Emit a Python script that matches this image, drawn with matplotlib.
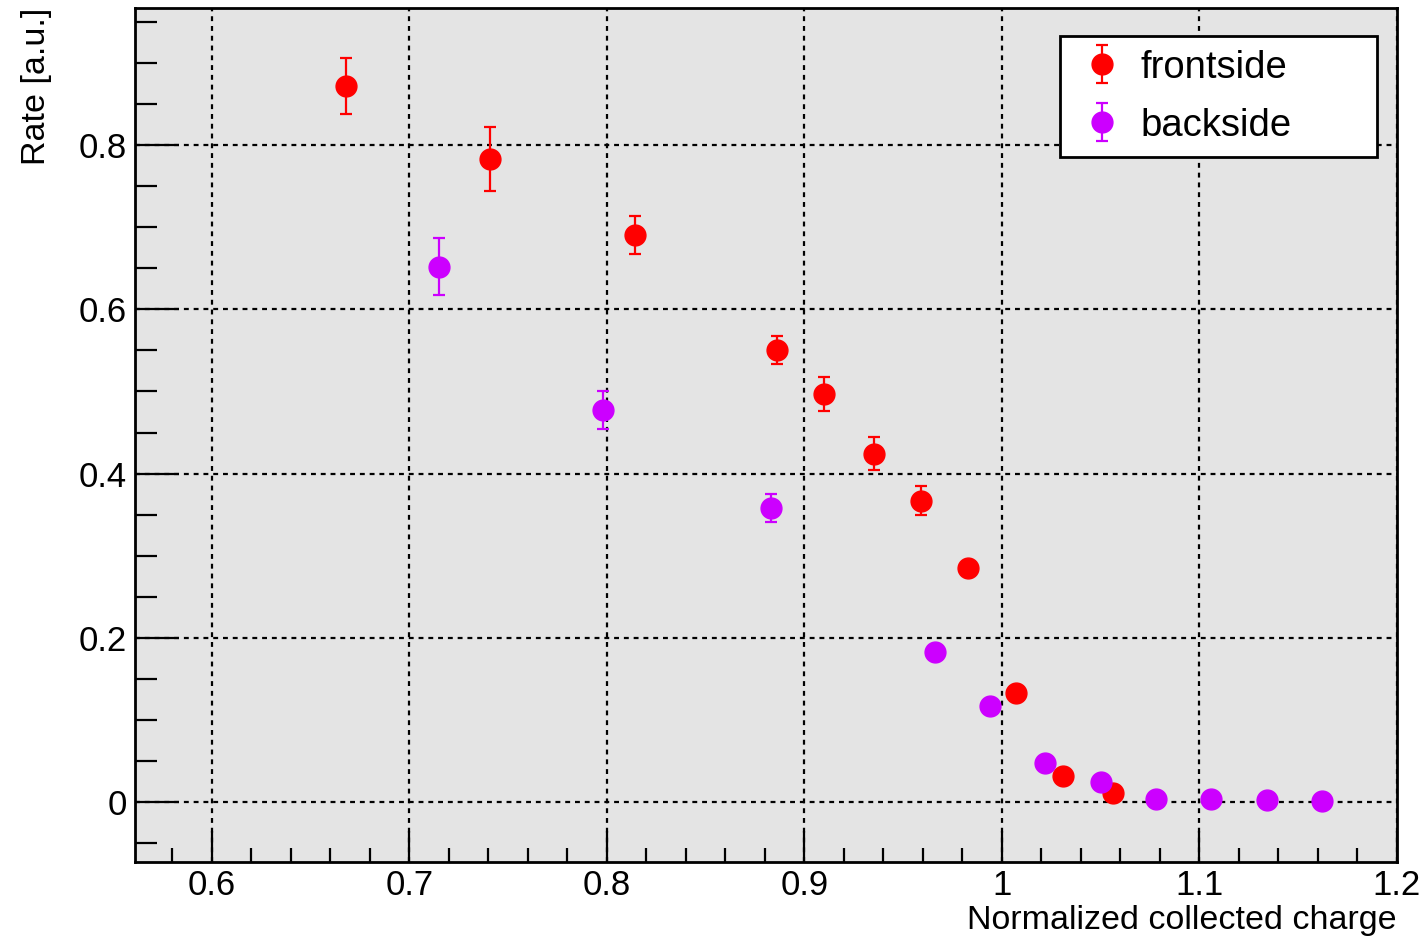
import matplotlib.pyplot as plt
from matplotlib.ticker import MultipleLocator

# charge rate data for the two illumination sides
front_x = [0.668, 0.741, 0.814, 0.886, 0.910, 0.935, 0.959, 0.983, 1.007, 1.031, 1.056]
front_y = [0.872, 0.783, 0.691, 0.551, 0.497, 0.424, 0.367, 0.285, 0.133, 0.032, 0.011]
front_err = [0.034, 0.039, 0.023, 0.017, 0.021, 0.020, 0.018, 0.008, 0.005, 0.003, 0.002]

back_x = [0.715, 0.798, 0.883, 0.966, 0.994, 1.022, 1.050, 1.078, 1.106, 1.134, 1.162]
back_y = [0.652, 0.477, 0.358, 0.183, 0.117, 0.048, 0.024, 0.004, 0.004, 0.002, 0.001]
back_err = [0.035, 0.023, 0.017, 0.005, 0.004, 0.003, 0.002, 0.001, 0.001, 0.001, 0.001]

plt.rcParams['font.family'] = ['Liberation Sans', 'DejaVu Sans']

fig = plt.figure(figsize=(14.22, 9.38), dpi=100)
ax = fig.add_axes([0.0949, 0.081, 0.8875, 0.9105])
ax.set_facecolor('#e4e4e4')

ax.set_xlim(0.561, 1.2)
ax.set_ylim(-0.073, 0.967)

ax.grid(True, which='major', color='black', linestyle=(0, (2.2, 2.2)), linewidth=1.6)
ax.set_axisbelow(True)

ax.errorbar(front_x, front_y, yerr=front_err, fmt='o', color='#ff0000', ms=15,
            elinewidth=1.6, capsize=4, capthick=1.6, label='frontside', zorder=3)
ax.errorbar(back_x, back_y, yerr=back_err, fmt='o', color='#cc00ff', ms=15,
            elinewidth=1.6, capsize=4, capthick=1.6, label='backside', zorder=3)

ax.xaxis.set_major_locator(MultipleLocator(0.1))
ax.xaxis.set_minor_locator(MultipleLocator(0.02))
ax.yaxis.set_major_locator(MultipleLocator(0.2))
ax.yaxis.set_minor_locator(MultipleLocator(0.05))
ax.xaxis.set_major_formatter(plt.FuncFormatter(lambda v, p: f'{v:g}'))
ax.yaxis.set_major_formatter(plt.FuncFormatter(lambda v, p: f'{v:g}' if abs(v) > 1e-9 else '0'))

ax.tick_params(axis='x', which='major', direction='in', length=22, width=1.6, labelsize=25, pad=5)
ax.tick_params(axis='x', which='minor', direction='in', length=10, width=1.6)
ax.tick_params(axis='y', which='major', direction='in', length=32, width=1.6, labelsize=25, pad=6)
ax.tick_params(axis='y', which='minor', direction='in', length=16, width=1.6)

for side in ['left', 'bottom', 'top', 'right']:
    ax.spines[side].set_linewidth(2)

ax.set_xlabel('Normalized collected charge', fontsize=24.5, loc='right', labelpad=2)
ax.set_ylabel('Rate [a.u.]', fontsize=24.5, loc='top', labelpad=19)

leg = ax.legend(loc='upper left', bbox_to_anchor=(0.733, 0.828, 0.251, 0.139), mode='expand',
                borderaxespad=0, fontsize=27.5, fancybox=False, framealpha=1, edgecolor='black',
                handletextpad=0.25, borderpad=0.35, labelspacing=0.58, handlelength=1.5)
leg.get_frame().set_linewidth(2)

fig.savefig('out.png', dpi=100)
